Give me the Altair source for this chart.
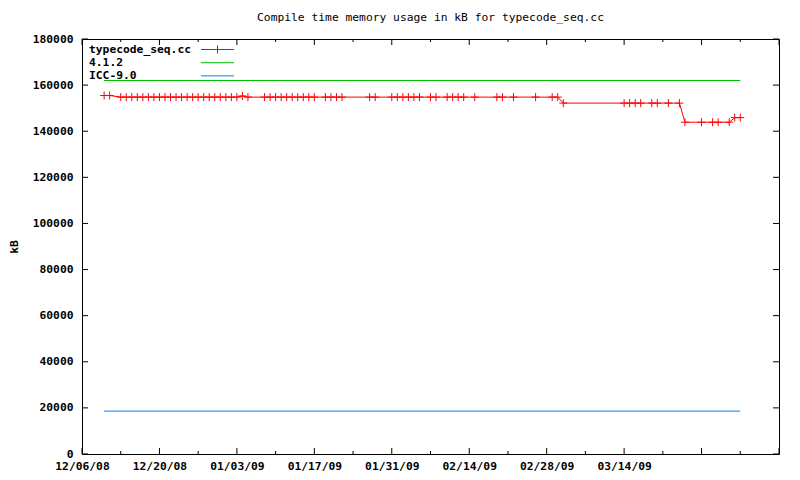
import altair as alt
import pandas as pd

# ---------------- data ----------------
red_dates = [
    "2008-12-10", "2008-12-11", "2008-12-13", "2008-12-14", "2008-12-15", "2008-12-16",
    "2008-12-17", "2008-12-18", "2008-12-19", "2008-12-20", "2008-12-21", "2008-12-22",
    "2008-12-23", "2008-12-24", "2008-12-25", "2008-12-26", "2008-12-27", "2008-12-28",
    "2008-12-29", "2008-12-30", "2008-12-31",
    "2009-01-01", "2009-01-02", "2009-01-03", "2009-01-04", "2009-01-05", "2009-01-08",
    "2009-01-09", "2009-01-10", "2009-01-11", "2009-01-12", "2009-01-13", "2009-01-14",
    "2009-01-15", "2009-01-16", "2009-01-17", "2009-01-19", "2009-01-20", "2009-01-21",
    "2009-01-22", "2009-01-27", "2009-01-28", "2009-01-31",
    "2009-02-01", "2009-02-02", "2009-02-03", "2009-02-04", "2009-02-05", "2009-02-07",
    "2009-02-08", "2009-02-10", "2009-02-11", "2009-02-12", "2009-02-13", "2009-02-15",
    "2009-02-19", "2009-02-20", "2009-02-22", "2009-02-26",
    "2009-03-01", "2009-03-02", "2009-03-03", "2009-03-14", "2009-03-15", "2009-03-16",
    "2009-03-17", "2009-03-19", "2009-03-20", "2009-03-22", "2009-03-24", "2009-03-25",
    "2009-03-28", "2009-03-30", "2009-03-31",
    "2009-04-02", "2009-04-03", "2009-04-04",
]
red_values = [
    155500, 155500, 154800, 154800, 154800, 154800,
    154800, 154800, 154800, 154800, 154800, 154800,
    154800, 154800, 154800, 154800, 154800, 154800,
    154800, 154800, 154800,
    154800, 154800, 154800, 155300, 154800, 154800,
    154800, 154800, 154800, 154800, 154800, 154800,
    154800, 154800, 154800, 154800, 154800, 154800,
    154800, 154800, 154800, 154800,
    154800, 154800, 154800, 154800, 154800, 154800,
    154800, 154800, 154800, 154800, 154800, 154800,
    154800, 154800, 154800, 154800,
    154800, 154800, 152200, 152200, 152200, 152200,
    152200, 152200, 152200, 152200, 152200, 143900,
    143900, 143900, 143900,
    143900, 145900, 145900,
]

ref_names = ["4.1.2", "ICC-9.0"]
ref_values = [162000, 18600]
ref_start = ["2008-12-10", "2008-12-10"]
ref_end = ["2009-04-04", "2009-04-04"]

series_names = ["typecode_seq.cc", "4.1.2", "ICC-9.0"]
series_colors = ["#ff0000", "#00c000", "#0080ff"]

chart_title = "Compile time memory usage in kB for typecode_seq.cc"

x_domain = ["2008-12-06", "2009-04-11"]
x_label_dates = ["2008-12-06", "2008-12-20", "2009-01-03", "2009-01-17",
                 "2009-01-31", "2009-02-14", "2009-02-28", "2009-03-14"]
x_major_ticks = ["2008-12-06", "2008-12-20", "2009-01-03", "2009-01-17", "2009-01-31",
                 "2009-02-14", "2009-02-28", "2009-03-14", "2009-03-28", "2009-04-11"]
x_minor_ticks = ["2008-12-13", "2008-12-27", "2009-01-10", "2009-01-24", "2009-02-07",
                 "2009-02-21", "2009-03-07", "2009-03-21", "2009-04-04"]
y_ticks = [0, 20000, 40000, 60000, 80000, 100000, 120000, 140000, 160000, 180000]

# ---------------- helpers ----------------
W, H = 697, 415
FONT = "DejaVu Sans Mono"
FS = 11.3


def dt(s):
    y, m, d = (int(p) for p in s.split("-"))
    return alt.DateTime(year=y, month=m, date=d, utc=True)


xscale = alt.Scale(type="utc", domain=[dt(x_domain[0]), dt(x_domain[1])], nice=False)
yscale = alt.Scale(domain=[0, 180000], nice=False, zero=True)

red_df = pd.DataFrame({"date": red_dates, "kb": red_values})
ytick_df = pd.DataFrame({"v": y_ticks})
xmaj_df = pd.DataFrame({"d": x_major_ticks})
xmin_df = pd.DataFrame({"d": x_minor_ticks})
title_df = pd.DataFrame({"t": [chart_title]})

cross = "M-1,0L1,0M0,-1L0,1"

layers = []

# axes layer (carries the visible axes) + red line
layers.append(alt.Chart(red_df).mark_line(color=series_colors[0], strokeWidth=1).encode(
    x=alt.X("date:T", scale=xscale, title=None,
            axis=alt.Axis(values=[dt(s) for s in x_label_dates], format="%m/%d/%y",
                          ticks=False, domain=False, grid=False, labelPadding=6,
                          labelFont=FONT, labelFontSize=FS, labelFontWeight="bold",
                          labelColor="black", labelOverlap=False, labelFlush=False)),
    y=alt.Y("kb:Q", scale=yscale, title="kB",
            axis=alt.Axis(values=y_ticks, format="d", ticks=False, domain=False, grid=False,
                          labelPadding=9, labelFont=FONT, labelFontSize=FS,
                          labelFontWeight="bold", labelColor="black",
                          titleFont=FONT, titleFontSize=FS, titleFontWeight="bold",
                          titleColor="black", titleAngle=-90, titleX=-68, titleY=H / 2,
                          titleAlign="center", titleBaseline="middle")),
))

# reference lines (one layer each, explicit colour)
for name, val, s, e, col in zip(ref_names, ref_values, ref_start, ref_end, series_colors[1:]):
    df = pd.DataFrame({"name": [name], "kb": [val], "start": [s], "end": [e]})
    layers.append(alt.Chart(df).mark_rule(color=col, strokeWidth=1).encode(
        x=alt.X("start:T", scale=xscale), x2="end:T", y=alt.Y("kb:Q", scale=yscale)))

# red point markers
layers.append(alt.Chart(red_df).mark_point(shape=cross, filled=False, color=series_colors[0],
                                           strokeWidth=1, size=64, opacity=1).encode(
    x=alt.X("date:T", scale=xscale), y=alt.Y("kb:Q", scale=yscale)))

# inward ticks (gnuplot style, mirrored)
layers += [
    alt.Chart(ytick_df).mark_rule(color="black").encode(
        y=alt.Y("v:Q", scale=yscale), x=alt.value(0), x2=alt.value(6)),
    alt.Chart(ytick_df).mark_rule(color="black").encode(
        y=alt.Y("v:Q", scale=yscale), x=alt.value(W - 6), x2=alt.value(W)),
    alt.Chart(xmaj_df).mark_rule(color="black").encode(
        x=alt.X("d:T", scale=xscale), y=alt.value(H), y2=alt.value(H - 6)),
    alt.Chart(xmaj_df).mark_rule(color="black").encode(
        x=alt.X("d:T", scale=xscale), y=alt.value(0), y2=alt.value(6)),
    alt.Chart(xmin_df).mark_rule(color="black").encode(
        x=alt.X("d:T", scale=xscale), y=alt.value(H), y2=alt.value(H - 3)),
    alt.Chart(xmin_df).mark_rule(color="black").encode(
        x=alt.X("d:T", scale=xscale), y=alt.value(0), y2=alt.value(3)),
]

# key (top-left, gnuplot style: label then sample line)
for i, (name, col) in enumerate(zip(series_names, series_colors)):
    py = 10.5 + i * 13.2
    kdf = pd.DataFrame({"name": [name]})
    layers.append(alt.Chart(kdf).mark_text(align="left", baseline="middle", font=FONT,
                                           fontSize=FS, fontWeight="bold",
                                           color="black").encode(
        x=alt.value(7), y=alt.value(py), text="name:N"))
    layers.append(alt.Chart(kdf).mark_rule(color=col, strokeWidth=1).encode(
        x=alt.value(119), x2=alt.value(152), y=alt.value(py)))
    if i == 0:
        layers.append(alt.Chart(kdf).mark_point(shape=cross, filled=False, color=col,
                                                strokeWidth=1, size=64, opacity=1).encode(
            x=alt.value(135.5), y=alt.value(py)))

# title
layers.append(alt.Chart(title_df).mark_text(align="center", baseline="middle", font=FONT,
                                            fontSize=FS, fontWeight="normal",
                                            color="black").encode(
    x=alt.value(W / 2), y=alt.value(-21), text="t:N"))

chart = alt.layer(*layers).properties(
    width=W, height=H,
    autosize=alt.AutoSizeParams(type="none"),
    padding={"left": 74, "top": 31, "right": 5, "bottom": 18},
    background="white",
).configure_view(stroke="black", strokeWidth=1)

chart.save("out.html", embed_options={"renderer": "svg", "actions": False})
